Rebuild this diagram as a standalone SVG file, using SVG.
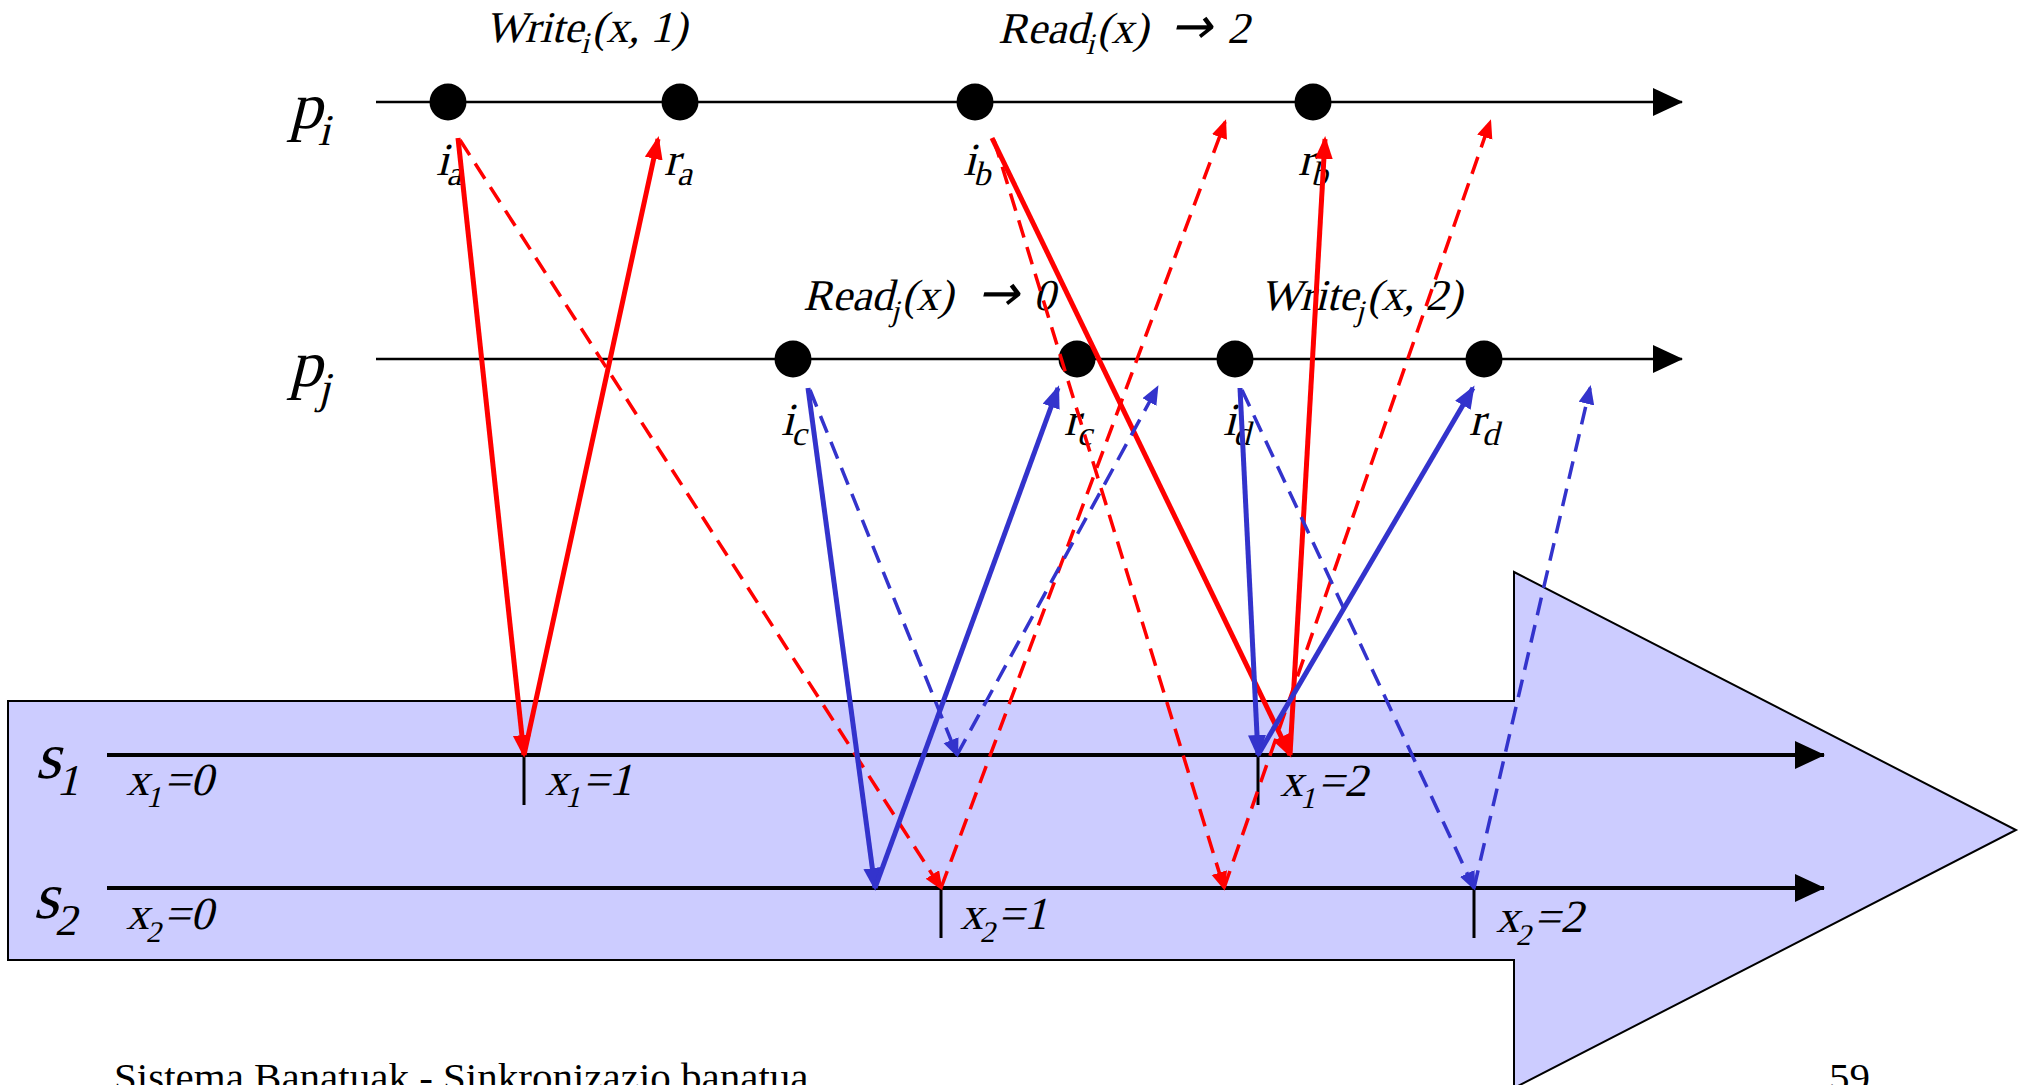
<svg xmlns="http://www.w3.org/2000/svg" width="2024" height="1085" viewBox="0 0 2024 1085">
<style>
text{font-family:"Liberation Serif","Times New Roman",serif;fill:#000}
.big{font-size:66px}
.bsub{font-size:44px}
.op{font-size:44px}
.sub{font-size:30px}
.lbl{font-size:46px}
.lsub{font-size:34px}
.val{font-size:46px}
.arr{font-family:"DejaVu Sans",sans-serif;font-size:50px}
.axis{stroke:#000;stroke-width:2.5;fill:none}
.srv{stroke:#000;stroke-width:4;fill:none}
.tick{stroke:#000;stroke-width:3}
.dot{fill:#000}
.rs{stroke:#FF0000;stroke-width:5;fill:none;marker-end:url(#ars)}
.rd{stroke:#FF0000;stroke-width:3.5;fill:none;stroke-dasharray:18 10;marker-end:url(#ard)}
.bs{stroke:#3333CC;stroke-width:5;fill:none;marker-end:url(#abs)}
.bd{stroke:#3333CC;stroke-width:3.5;fill:none;stroke-dasharray:18 10;marker-end:url(#abd)}
</style>
<defs>
<marker id="ablack" markerUnits="userSpaceOnUse" markerWidth="32" markerHeight="30" refX="29" refY="14" orient="auto"><path d="M0,0 L30,14 L0,28 z" fill="#000"/></marker>
<marker id="ars" markerUnits="userSpaceOnUse" markerWidth="24" markerHeight="20" refX="20" refY="9" orient="auto"><path d="M0,0 L23,9 L0,18 z" fill="#FF0000"/></marker>
<marker id="ard" markerUnits="userSpaceOnUse" markerWidth="20" markerHeight="18" refX="16" refY="8" orient="auto"><path d="M0,0 L19,8 L0,16 z" fill="#FF0000"/></marker>
<marker id="abs" markerUnits="userSpaceOnUse" markerWidth="24" markerHeight="20" refX="20" refY="9" orient="auto"><path d="M0,0 L23,9 L0,18 z" fill="#3333CC"/></marker>
<marker id="abd" markerUnits="userSpaceOnUse" markerWidth="20" markerHeight="18" refX="16" refY="8" orient="auto"><path d="M0,0 L19,8 L0,16 z" fill="#3333CC"/></marker>
</defs>

<g id="memory-arrow">
<polygon points="8,701 1514,701 1514,572 2016,830 1514,1088 1514,960 8,960" fill="#CCCCFF" stroke="#000" stroke-width="2"/>
</g>

<g id="s1">
<line class="srv" x1="107" y1="755" x2="1824" y2="755" marker-end="url(#ablack)"/>
<text class="big" transform="translate(35,778) skewX(-14)">s<tspan class="bsub" dy="17">1</tspan></text>
<text class="val" transform="translate(126,795) skewX(-14)">x<tspan class="sub" dy="12">1</tspan><tspan dy="-12">=0</tspan></text>
<line class="tick" x1="524" y1="755" x2="524" y2="805"/>
<text class="val" transform="translate(545,795) skewX(-14)">x<tspan class="sub" dy="12">1</tspan><tspan dy="-12">=1</tspan></text>
<line class="tick" x1="1258" y1="755" x2="1258" y2="805"/>
<text class="val" transform="translate(1280,796) skewX(-14)">x<tspan class="sub" dy="12">1</tspan><tspan dy="-12">=2</tspan></text>
</g>

<g id="s2">
<line class="srv" x1="107" y1="888" x2="1824" y2="888" marker-end="url(#ablack)"/>
<text class="big" transform="translate(33,918) skewX(-14)">s<tspan class="bsub" dy="17">2</tspan></text>
<text class="val" transform="translate(126,929) skewX(-14)">x<tspan class="sub" dy="13">2</tspan><tspan dy="-13">=0</tspan></text>
<line class="tick" x1="941" y1="888" x2="941" y2="938"/>
<text class="val" transform="translate(960,929) skewX(-14)">x<tspan class="sub" dy="13">2</tspan><tspan dy="-13">=1</tspan></text>
<line class="tick" x1="1474" y1="888" x2="1474" y2="938"/>
<text class="val" transform="translate(1496,932) skewX(-14)">x<tspan class="sub" dy="13">2</tspan><tspan dy="-13">=2</tspan></text>
</g>

<g id="pi">
<line class="axis" x1="376" y1="102" x2="1682" y2="102" marker-end="url(#ablack)"/>
<text class="big" transform="translate(289,128) skewX(-14)">p<tspan class="bsub" dy="17">i</tspan></text>
<text class="op" transform="translate(485,42) skewX(-14)">Write<tspan class="sub" dy="11">i</tspan><tspan dy="-11">(x, 1)</tspan></text>
<text class="op" transform="translate(998,43) skewX(-14)">Read<tspan class="sub" dy="11">i</tspan><tspan dy="-11">(x)</tspan><tspan class="arr" x="172">→</tspan><tspan x="229">2</tspan></text>
</g>

<g id="pj">
<line class="axis" x1="376" y1="359" x2="1682" y2="359" marker-end="url(#ablack)"/>
<text class="big" transform="translate(289,386) skewX(-14)">p<tspan class="bsub" dy="17">j</tspan></text>
<text class="op" transform="translate(803,310) skewX(-14)">Read<tspan class="sub" dy="11">j</tspan><tspan dy="-11">(x)</tspan><tspan class="arr" x="174">→</tspan><tspan x="230">0</tspan></text>
<text class="op" transform="translate(1260,310) skewX(-14)">Write<tspan class="sub" dy="11">j</tspan><tspan dy="-11">(x, 2)</tspan></text>
</g>

<g id="ia"><circle class="dot" cx="448" cy="102" r="18.5"/><text class="lbl" transform="translate(436,175) skewX(-14)">i<tspan class="lsub" dy="10">a</tspan></text></g>
<g id="ra"><circle class="dot" cx="680" cy="102" r="18.5"/><text class="lbl" transform="translate(664,175) skewX(-14)">r<tspan class="lsub" dy="10">a</tspan></text></g>
<g id="ib"><circle class="dot" cx="975" cy="102" r="18.5"/><text class="lbl" transform="translate(963,175) skewX(-14)">i<tspan class="lsub" dy="10">b</tspan></text></g>
<g id="rb"><circle class="dot" cx="1313" cy="102" r="18.5"/><text class="lbl" transform="translate(1298,175) skewX(-14)">r<tspan class="lsub" dy="10">b</tspan></text></g>
<g id="ic"><circle class="dot" cx="793" cy="359" r="18.5"/><text class="lbl" transform="translate(781,435) skewX(-14)">i<tspan class="lsub" dy="10">c</tspan></text></g>
<g id="rc"><circle class="dot" cx="1077" cy="359" r="18.5"/><text class="lbl" transform="translate(1064,435) skewX(-14)">r<tspan class="lsub" dy="10">c</tspan></text></g>
<g id="id"><circle class="dot" cx="1235" cy="359" r="18.5"/><text class="lbl" transform="translate(1223,435) skewX(-14)">i<tspan class="lsub" dy="10">d</tspan></text></g>
<g id="rd"><circle class="dot" cx="1484" cy="359" r="18.5"/><text class="lbl" transform="translate(1469,435) skewX(-14)">r<tspan class="lsub" dy="10">d</tspan></text></g>

<g id="connectors">
<line class="rs" x1="458" y1="138" x2="524" y2="755"/>
<line class="rs" x1="524" y1="755" x2="658" y2="139"/>
<line class="rs" x1="992" y1="138" x2="1290" y2="755"/>
<line class="rs" x1="1290" y1="755" x2="1325" y2="139"/>
<line class="rd" x1="460" y1="140" x2="941" y2="888"/>
<line class="rd" x1="941" y1="888" x2="1225" y2="122"/>
<line class="rd" x1="994" y1="140" x2="1224" y2="888"/>
<line class="rd" x1="1224" y1="888" x2="1490" y2="122"/>
<line class="bs" x1="808" y1="388" x2="875" y2="888"/>
<line class="bs" x1="875" y1="888" x2="1058" y2="388"/>
<line class="bs" x1="1240" y1="388" x2="1258" y2="755"/>
<line class="bs" x1="1258" y1="755" x2="1473" y2="388"/>
<line class="bd" x1="810" y1="390" x2="957" y2="755"/>
<line class="bd" x1="957" y1="755" x2="1157" y2="388"/>
<line class="bd" x1="1242" y1="390" x2="1474" y2="888"/>
<line class="bd" x1="1474" y1="888" x2="1590" y2="388"/>
</g>

<g id="footer">
<text x="114" y="1091" font-size="41">Sistema Banatuak - Sinkronizazio banatua</text>
<text x="1829" y="1091" font-size="41">59</text>
</g>
</svg>
